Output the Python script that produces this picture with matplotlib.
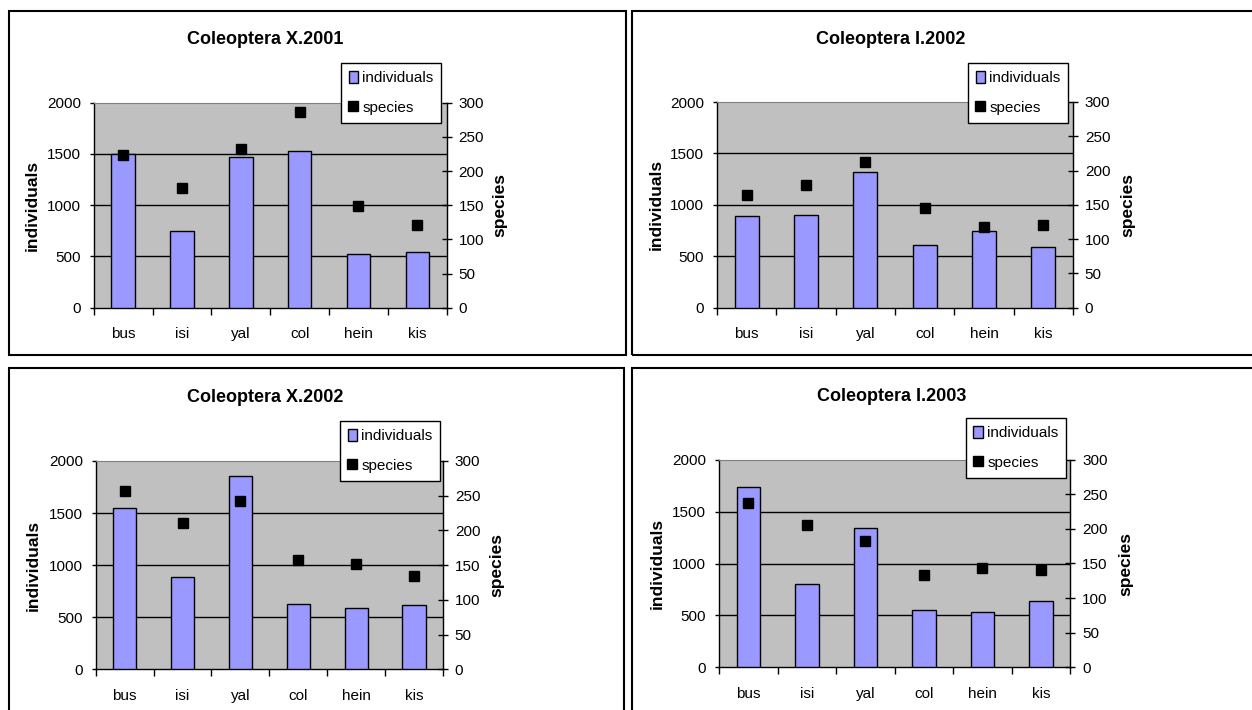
import matplotlib
matplotlib.use("Agg")
import matplotlib.pyplot as plt
from matplotlib.patches import Rectangle, Patch
from matplotlib.lines import Line2D
import numpy as np

plt.rcParams['font.family'] = ['Liberation Sans', 'DejaVu Sans']
FS = 11

# ---- data ----
categories = ['bus', 'isi', 'yal', 'col', 'hein', 'kis']
titles = ['Coleoptera X.2001', 'Coleoptera I.2002', 'Coleoptera X.2002', 'Coleoptera I.2003']
individuals_X2001 = [1500, 745, 1470, 1530, 525, 540]
species_X2001 = [224, 175, 232, 286, 149, 121]
individuals_I2002 = [890, 905, 1320, 610, 750, 595]
species_I2002 = [164, 179, 213, 146, 118, 120]
individuals_X2002 = [1550, 890, 1860, 630, 585, 615]
species_X2002 = [257, 211, 243, 157, 151, 134]
individuals_I2003 = [1740, 805, 1340, 550, 530, 640]
species_I2003 = [237, 205, 182, 134, 143, 141]
left_ticks = [0, 500, 1000, 1500, 2000]
right_ticks = [0, 50, 100, 150, 200, 250, 300]

individuals = [individuals_X2001, individuals_I2002, individuals_X2002, individuals_I2003]
species = [species_X2001, species_I2002, species_X2002, species_I2003]

# ---- layout (pixels) ----
W, H = 1252, 710
layouts = [
    dict(box=(9, 11, 626, 355), plot=(93.7, 102.7, 446.7, 307.7), title=(265, 40),
         yl=32, yr=500, leg=(341, 63, 435.7, 127)),
    dict(box=(632, 11, 1258, 355), plot=(717, 102, 1073, 307.7), title=(891, 40),
         yl=656, yr=1128, leg=(968, 63, 1063, 127)),
    dict(box=(9, 368, 624, 716), plot=(95.7, 461, 443, 669.3), title=(265, 397.7),
         yl=33, yr=497, leg=(340, 421, 433, 488)),
    dict(box=(632, 368, 1258, 716), plot=(719, 459.7, 1070.3, 667.3), title=(892, 396.7),
         yl=657, yr=1126, leg=(965.7, 418, 1059.7, 485)),
]

fig = plt.figure(figsize=(W / 100, H / 100), dpi=100)
fig.patch.set_facecolor('white')


def fx(x):
    return x / W


def fy(y):
    return 1 - y / H


bar_color = '#9999FF'
bg = '#C0C0C0'

for i in range(4):
    L = layouts[i]
    bx0, by0, bx1, by1 = L['box']
    fig.patches.append(Rectangle((fx(bx0), fy(by1)), fx(bx1 - bx0), (by1 - by0) / H,
                                 transform=fig.transFigure, fill=False,
                                 edgecolor='black', linewidth=1.5, zorder=0))
    x0, y0, x1, y1 = L['plot']
    ax = fig.add_axes([fx(x0), fy(y1), fx(x1 - x0), (y1 - y0) / H])
    ax.set_facecolor(bg)
    xpos = np.arange(len(categories))
    ax.bar(xpos, individuals[i], width=0.4, color=bar_color, edgecolor='black',
           linewidth=1.0, zorder=3)
    ax.set_xlim(-0.5, len(categories) - 0.5)
    ax.set_ylim(0, 2000)
    ax.set_yticks(left_ticks)
    for v in left_ticks[1:-1]:
        ax.axhline(v, color='black', linewidth=1.0, zorder=1)
    ax.set_xticks(xpos)
    ax.set_xticklabels(categories)
    ax.set_xticks(np.arange(-0.5, len(categories)), minor=True)
    ax.tick_params(axis='x', which='major', length=0, pad=14, labelsize=FS)
    ax.tick_params(axis='x', which='minor', length=5, direction='out', width=1)
    ax.tick_params(axis='y', which='major', length=3.2, direction='out', width=1,
                   pad=6, labelsize=FS)
    for s in ['left', 'bottom']:
        ax.spines[s].set_color('black')
        ax.spines[s].set_linewidth(1.0)
    ax.spines['top'].set_color('#808080')
    ax.spines['right'].set_color('#808080')

    ax2 = ax.twinx()
    ax2.plot(xpos, species[i], linestyle='none', marker='s', markersize=7,
             color='black', zorder=4)
    ax2.set_ylim(0, 300)
    ax2.set_yticks(right_ticks)
    ax2.tick_params(axis='y', which='major', length=7, direction='inout', width=1,
                    pad=5, labelsize=FS)
    ax2.spines['right'].set_color('black')
    ax2.spines['right'].set_linewidth(1.0)
    for s in ['left', 'top', 'bottom']:
        ax2.spines[s].set_visible(False)

    cy = (y0 + y1) / 2
    tx, ty = L['title']
    fig.text(fx(tx), fy(ty), titles[i], ha='center', va='center', fontsize=13,
             fontweight='bold')
    fig.text(fx(L['yl']), fy(cy), 'individuals', rotation=90, ha='center', va='center',
             fontsize=12.5, fontweight='bold')
    fig.text(fx(L['yr']), fy(cy), 'species', rotation=90, ha='center', va='center',
             fontsize=12.5, fontweight='bold')

    lx0, ly0, lx1, ly1 = L['leg']
    handles = [Patch(facecolor=bar_color, edgecolor='black', linewidth=1.0),
               Line2D([], [], linestyle='none', marker='s', markersize=7, color='black')]
    leg = fig.legend(handles, ['individuals', 'species'], loc='upper left',
                     bbox_to_anchor=(fx(lx0), fy(ly0)), bbox_transform=fig.transFigure,
                     frameon=True, fancybox=False, shadow=False, fontsize=FS,
                     handlelength=0.6, handleheight=0.9, handletextpad=0.3,
                     labelspacing=1.0, borderpad=0.5, borderaxespad=0,
                     framealpha=1)
    leg.get_frame().set_edgecolor('black')
    leg.get_frame().set_linewidth(1.0)

fig.savefig('out.png', dpi=100)
